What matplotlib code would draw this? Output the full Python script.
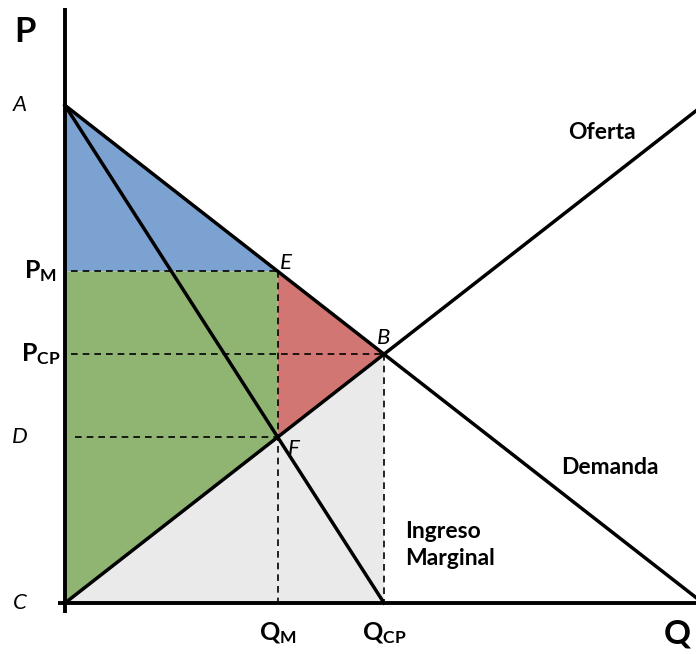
import numpy as np
import matplotlib.pyplot as plt
from matplotlib.patches import Polygon

plt.rcParams['mathtext.fontset'] = 'custom'
plt.rcParams['mathtext.bf'] = 'Lato:bold'
plt.rcParams['mathtext.rm'] = 'Lato'

# Linear market: demand P = a - b*Q, supply P = s*Q, marginal revenue P = a - 2b*Q
demand_intercept = 15.6
demand_slope = 0.78
supply_slope = 0.78

q_cp = demand_intercept / (demand_slope + supply_slope)          # competitive quantity
p_cp = supply_slope * q_cp
q_m = demand_intercept / (2 * demand_slope + supply_slope)       # monopoly quantity
p_m = demand_intercept - demand_slope * q_m
p_d = supply_slope * q_m

curve_labels = ['Oferta', 'Demanda', 'Ingreso\nMarginal']
point_labels = ['A', 'B', 'C', 'D', 'E', 'F']

# pixel geometry of the reference (origin at 65,603; 31.9 px per unit)
px = 31.9
x_min, x_max = -65 / px, 631 / px
y_min, y_max = -51 / px, 603 / px

fig = plt.figure(figsize=(6.96, 6.54), dpi=100)
ax = fig.add_axes([0, 0, 1, 1])
ax.set_xlim(x_min, x_max)
ax.set_ylim(y_min, y_max)
ax.axis('off')

# shaded areas
blue = '#7ba2d0'
green = '#90b573'
red = '#d27673'
gray = '#eaeaea'
ax.add_patch(Polygon([(0, demand_intercept), (0, p_m), (q_m, p_m)], closed=True,
                     facecolor=blue, edgecolor='none', zorder=1))
ax.add_patch(Polygon([(0, p_m), (q_m, p_m), (q_m, p_d), (0, 0)], closed=True,
                     facecolor=green, edgecolor='none', zorder=1))
ax.add_patch(Polygon([(q_m, p_m), (q_cp, p_cp), (q_m, p_d)], closed=True,
                     facecolor=red, edgecolor='none', zorder=1))
ax.add_patch(Polygon([(0, 0), (q_cp, p_cp), (q_cp, 0)], closed=True,
                     facecolor=gray, edgecolor='none', zorder=1))

# dashed guides
dash = dict(color='black', lw=1.2, ls=(0, (4, 3)), zorder=2)
ax.plot([0.2, q_m], [p_m, p_m], **dash)
ax.plot([0.2, q_cp], [p_cp, p_cp], **dash)
ax.plot([0.3, q_m], [p_d, p_d], **dash)
ax.plot([q_m, q_m], [p_m, 0], **dash)
ax.plot([q_cp, q_cp], [p_cp, 0], **dash)

# curves
q = np.array([0, x_max])
ax.plot(q, demand_intercept - demand_slope * q, color='black', lw=2.5, zorder=3)
ax.plot(q, supply_slope * q, color='black', lw=2.5, zorder=3)
q_mr = np.array([0, demand_intercept / (2 * demand_slope)])
ax.plot(q_mr, demand_intercept - 2 * demand_slope * q_mr, color='black', lw=2.5, zorder=3)

# axes
ax.plot([0, 0], [-10 / px, 595 / px], color='black', lw=2.8, zorder=4, solid_capstyle='butt')
ax.plot([-7 / px, x_max], [0, 0], color='black', lw=2.8, zorder=4, solid_capstyle='butt')

bold = dict(fontfamily='Lato', fontweight='bold', color='black')
ital = dict(fontfamily='Lato', fontstyle='italic', fontsize=16, color='black')

ax.text(-40 / px, 571 / px, 'P', fontsize=25, ha='center', va='center', **bold)
ax.text(626 / px, -31 / px, 'Q', fontsize=24, ha='right', va='center', **bold)

ax.text(537 / px, 471 / px, curve_labels[0], fontsize=16.5, ha='center', va='center', **bold)
ax.text(545 / px, 136 / px, curve_labels[1], fontsize=16.5, ha='center', va='center', **bold)
ax.text(340 / px, 58 / px, curve_labels[2], fontsize=16.5, ha='left', va='center',
        linespacing=1.4, **bold)

ax.text(-45 / px, demand_intercept, point_labels[0], ha='center', va='center', **ital)
ax.text(q_cp, p_cp + 16 / px, point_labels[1], ha='center', va='center', **ital)
ax.text(-45 / px, 0, point_labels[2], ha='center', va='center', **ital)
ax.text(-45 / px, p_d, point_labels[3], ha='center', va='center', **ital)
ax.text(q_m + 8 / px, p_m + 8 / px, point_labels[4], ha='center', va='center', **ital)
ax.text(q_m + 16 / px, p_d - 12 / px, point_labels[5], ha='center', va='center', **ital)

ax.text(-8 / px, p_m, r'$\mathbf{P_{M}}$', fontsize=18, ha='right', va='center')
ax.text(-4 / px, p_cp, r'$\mathbf{P_{CP}}$', fontsize=18, ha='right', va='center')
ax.text(q_m, -30 / px, r'$\mathbf{Q_{M}}$', fontsize=18, ha='center', va='center')
ax.text(q_cp, -30 / px, r'$\mathbf{Q_{CP}}$', fontsize=18, ha='center', va='center')

fig.savefig('out.png', dpi=100, facecolor='white')
